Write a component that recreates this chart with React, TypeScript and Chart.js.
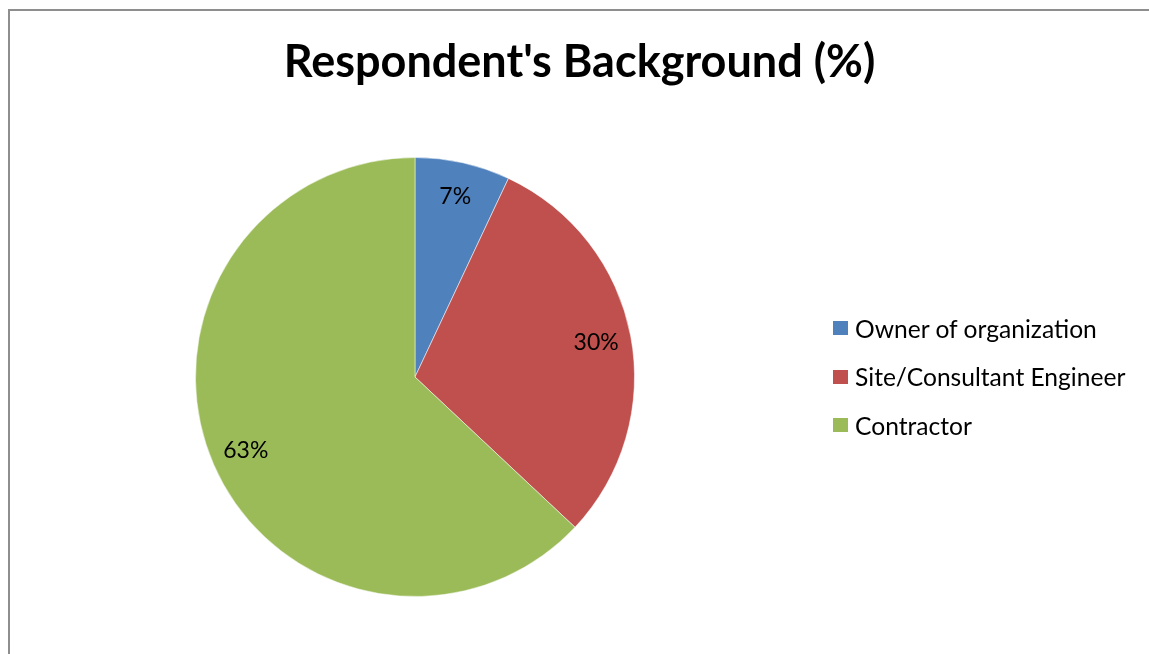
import React, { useEffect, useRef } from "react";
import { Chart, registerables } from "chart.js";

Chart.register(...registerables);

const categories = ["Owner of organization", "Site/Consultant Engineer", "Contractor"];
const values = [7, 30, 63];
const valueLabels = ["7%", "30%", "63%"];
const colors = ["#4F81BD", "#C0504D", "#9BBB59"];
const titleText = "Respondent's Background (%)";

const FONT = "Lato, 'Open Sans', sans-serif";

const labelPlugin = {
  id: "sliceLabels",
  afterDatasetsDraw(chart: any) {
    const ctx = chart.ctx;
    const meta = chart.getDatasetMeta(0);
    ctx.save();
    ctx.font = `23px ${FONT}`;
    ctx.fillStyle = "#000";
    ctx.textAlign = "center";
    ctx.textBaseline = "middle";
    meta.data.forEach((arc: any, i: number) => {
      const p = arc.getProps(["x", "y", "startAngle", "endAngle", "outerRadius"], true);
      const mid = (p.startAngle + p.endAngle) / 2;
      const r = p.outerRadius * 0.84;
      ctx.fillText(valueLabels[i], p.x + Math.cos(mid) * r, p.y + Math.sin(mid) * r);
    });
    ctx.restore();
  },
};

const titlePlugin = {
  id: "centeredTitle",
  afterDraw(chart: any) {
    const ctx = chart.ctx;
    ctx.save();
    ctx.font = `bold 45px ${FONT}`;
    ctx.fillStyle = "#000";
    ctx.textAlign = "center";
    ctx.textBaseline = "middle";
    ctx.fillText(titleText, chart.width / 2 + 5, 62);
    ctx.restore();
  },
};

export default function App() {
  const ref = useRef<HTMLCanvasElement>(null);
  useEffect(() => {
    if (!ref.current) return;
    const chart = new Chart(ref.current, {
      type: "pie",
      data: {
        labels: categories,
        datasets: [
          {
            data: values,
            backgroundColor: colors,
            borderColor: "rgba(255,255,255,0.5)",
            borderWidth: 1,
          },
        ],
      },
      options: {
        responsive: false,
        animation: false,
        devicePixelRatio: 1,
        layout: { padding: { top: 157, bottom: 57, left: 0, right: 319 } },
        plugins: {
          legend: { display: false },
          tooltip: { enabled: false },
          title: { display: false },
        },
      },
      plugins: [labelPlugin, titlePlugin],
    });
    return () => chart.destroy();
  }, []);

  return (
    <div style={{ position: "fixed", left: 0, top: 0, width: 1149, height: 654, background: "#fff", overflow: "hidden" }}>
      <div
        style={{
          position: "absolute",
          left: 8,
          top: 9,
          width: 1200,
          height: 700,
          borderLeft: "2px solid #8e8e8e",
          borderTop: "2px solid #8e8e8e",
        }}
      />
      <canvas ref={ref} width={1149} height={654} style={{ position: "absolute", left: 0, top: 0 }} />
      <div style={{ position: "absolute", left: 833, top: 0, fontFamily: FONT, fontSize: 24.6, color: "#000" }}>
        {categories.map((c, i) => (
          <div
            key={c}
            style={{ position: "absolute", left: 0, top: 328 + i * 48.5 - 16, height: 32, display: "flex", alignItems: "center", whiteSpace: "nowrap" }}
          >
            <span style={{ display: "inline-block", width: 15, height: 14, background: colors[i], marginRight: 7 }} />
            <span>{c}</span>
          </div>
        ))}
      </div>
    </div>
  );
}
